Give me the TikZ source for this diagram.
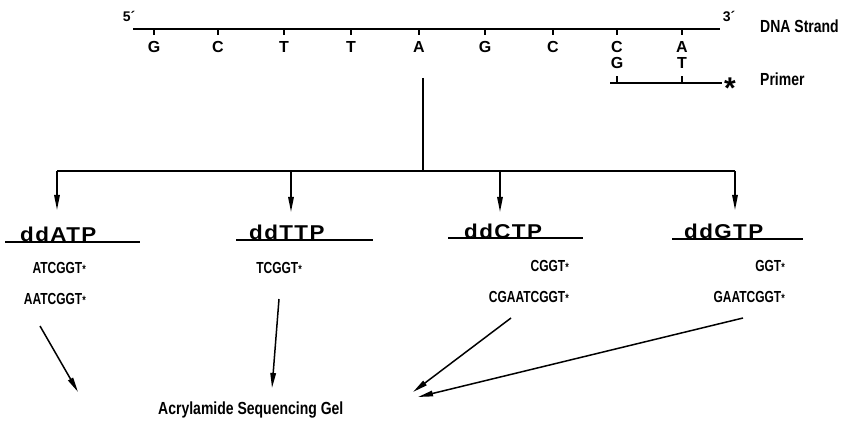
\documentclass[tikz,border=0pt]{standalone}
\usepackage{fontspec}
\setmainfont{Liberation Sans}
\newfontfamily\seqfont[FakeStretch=0.75]{Liberation Sans}
\newfontfamily\lblfont[FakeStretch=0.8]{Liberation Sans}
\newfontfamily\headfont[FakeStretch=1.12,LetterSpace=7]{Liberation Sans}
\usetikzlibrary{arrows.meta}
\newcommand\tagstar{{\fontsize{12}{12}\selectfont*}}
\tikzset{
  thick line/.style={line width=1.6pt},
  tick/.style={line width=1.3pt},
  arr/.style={line width=1.5pt,-{Triangle[length=15pt,width=5.5pt]}},
  base/.style={font=\fontsize{16}{16}\selectfont\bfseries,inner sep=0pt},
  seq/.style={font=\seqfont\fontsize{16}{16}\selectfont\bfseries,inner sep=0pt,anchor=east},
  head/.style={font=\headfont\fontsize{20}{20}\selectfont\bfseries,inner sep=0pt,anchor=base west},
  lbl/.style={font=\lblfont\fontsize{17.5}{17.5}\selectfont\bfseries,inner sep=0pt,anchor=west},
  endlbl/.style={font=\fontsize{14}{14}\selectfont\bfseries,inner sep=0pt},
}
\begin{document}
\begin{tikzpicture}[x=1pt,y=-1pt]
\useasboundingbox (0,0) rectangle (842,430);

% template strand
\coordinate (s5) at (133,29);
\coordinate (s3) at (720,29);
\draw[thick line] (s5) -- (s3);
\node[endlbl] (p5) at (129,16) {5\textasciiacute};
\node[endlbl] (p3) at (729,16) {3\textasciiacute};
\node[lbl] (dnalbl) at (760,26) {DNA Strand};

% bases of the template, each hanging from a short tick
\foreach \x/\b [count=\i] in {154/G,218/C,284/T,351/T,419/A,485/G,553/C,617/C,682/A}{
  \node[base] (b\i) at (\x,47) {\b};
  \draw[tick] (\x,29) -- (\x,35);
}

% primer
\coordinate (pr1) at (610,83);
\coordinate (pr2) at (722,83);
\draw[thick line] (pr1) -- (pr2);
\node[base] (q1) at (617,63) {G};
\node[base] (q2) at (682,63) {T};
\draw[tick] (617,83) -- (617,76);
\draw[tick] (682,83) -- (682,76);
\node[font=\fontsize{30}{30}\selectfont\bfseries,inner sep=0pt,anchor=base] (pstar) at (730,99) {*};
\node[lbl] (prlbl) at (760,79) {Primer};

% split into the four reactions
\coordinate (stem) at (423,78);
\coordinate (fork) at (423,171);
\coordinate (jA) at (57,171);
\coordinate (jT) at (291,171);
\coordinate (jC) at (500,171);
\coordinate (jG) at (735,171);
\draw[thick line] (stem) -- (fork);
\draw[thick line] (jA) -- (jG);

\node[head] (hA) at (20,241) {ddATP};
\node[head] (hT) at (249,240) {ddTTP};
\node[head] (hC) at (464,238) {ddCTP};
\node[head] (hG) at (684,238) {ddGTP};
\draw[thick line] (5,242) -- (140,242);
\draw[thick line] (236,240) -- (373,240);
\draw[thick line] (448,238) -- (583,238);
\draw[thick line] (672,239) -- (803,239);

\foreach \j/\t in {jA/210,jT/212,jC/212,jG/210}{
  \draw[arr] (\j) -- (\j |- 0,\t);
}

% terminated fragments
\node[seq] (fA1) at (86,268) {ATCGGT\tagstar};
\node[seq] (fA2) at (86,299) {AATCGGT\tagstar};
\node[seq] (fT1) at (302,268) {TCGGT\tagstar};
\node[seq] (fC1) at (569,266) {CGGT\tagstar};
\node[seq] (fC2) at (569,297) {CGAATCGGT\tagstar};
\node[seq] (fG1) at (785,266) {GGT\tagstar};
\node[seq] (fG2) at (785,297) {GAATCGGT\tagstar};

% into the gel
\node[lbl] (gel) at (158,410) {Acrylamide Sequencing Gel};
\coordinate (gA) at (40,326);   \coordinate (eA) at (78,392);
\coordinate (gT) at (279,299);  \coordinate (eT) at (272,388);
\coordinate (gC) at (511,318);  \coordinate (eC) at (413,392);
\coordinate (gG) at (743,318);  \coordinate (eG) at (418,397);
\draw[arr] (gA) -- (eA);
\draw[arr] (gT) -- (eT);
\draw[arr] (gC) -- (eC);
\draw[arr] (gG) -- (eG);
\end{tikzpicture}
\end{document}
